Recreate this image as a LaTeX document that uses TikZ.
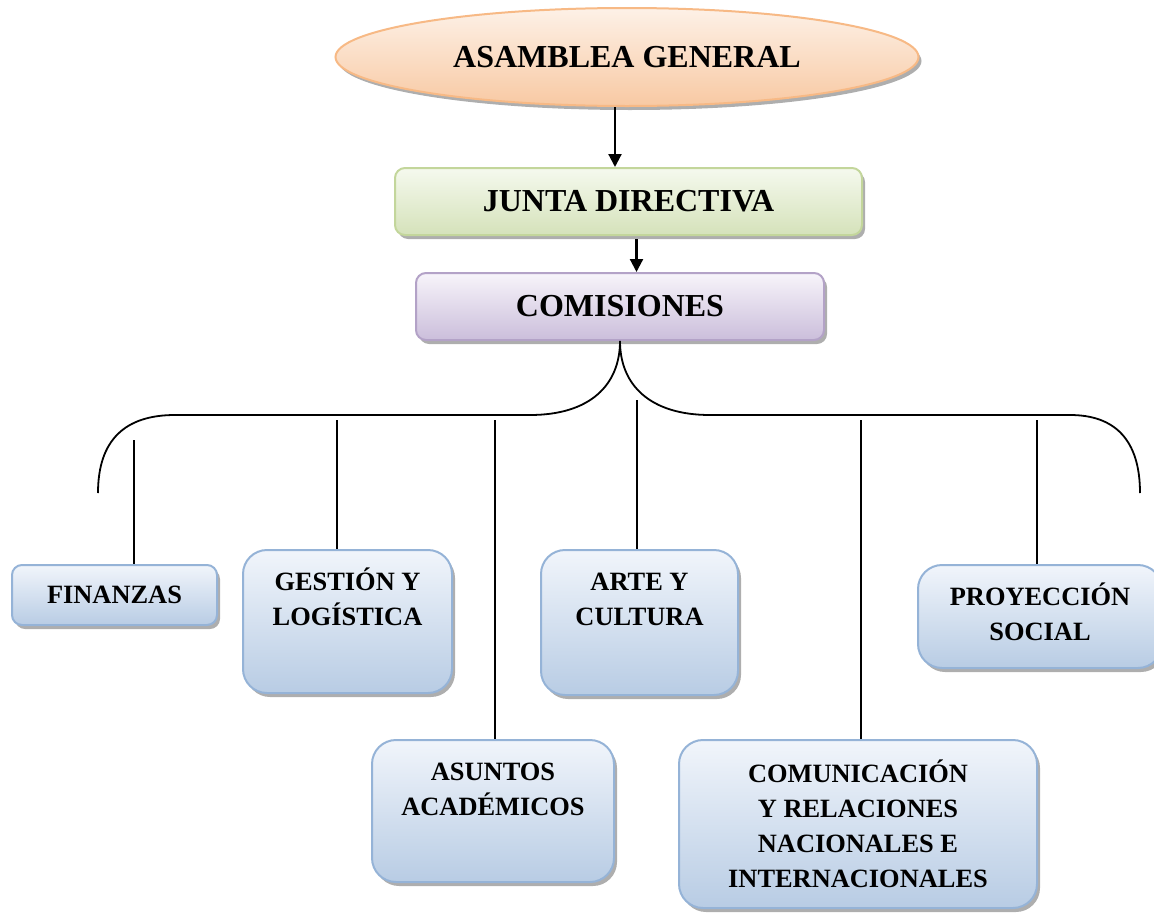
\documentclass[tikz,border=0pt]{standalone}
\usepackage{fontspec}
\setmainfont{Liberation Serif}
\usetikzlibrary{shapes,arrows.meta,shadows,positioning}

\definecolor{melocoton}{HTML}{FDF1E7}
\definecolor{melocotonb}{HTML}{F8C9A3}
\definecolor{melocotonl}{HTML}{F7B985}
\definecolor{verdea}{HTML}{F5F9EE}
\definecolor{verdeb}{HTML}{D5E2BA}
\definecolor{verdel}{HTML}{C3D69B}
\definecolor{moradoa}{HTML}{F7F4FA}
\definecolor{moradob}{HTML}{CBBEDB}
\definecolor{moradol}{HTML}{B3A2C7}
\definecolor{azula}{HTML}{F1F5FB}
\definecolor{azulb}{HTML}{B8CCE4}
\definecolor{azull}{HTML}{95B3D7}

\begin{document}
\begin{tikzpicture}[x=1pt,y=-1pt,
    line width=1.8pt,
    sombra/.style={drop shadow={shadow xshift=3pt,shadow yshift=-4pt,fill=black!45,opacity=.7}},
    grande/.style={font=\fontsize{32}{36}\selectfont\bfseries},
    caja/.style={draw=azull, line width=2pt, rounded corners=24pt,
        top color=azula, bottom color=azulb, sombra},
    texto/.style={font=\fontsize{26.4}{35}\selectfont\bfseries, align=center,
        inner sep=0pt, anchor=north},
    flecha/.style={-{Triangle[length=13pt,width=13pt]}, line width=2.2pt}]
\useasboundingbox (0,0) rectangle (1154,913);

% niveles superiores
\node[ellipse, draw=melocotonl, line width=2pt, top color=melocoton, bottom color=melocotonb,
      minimum width=583pt, minimum height=98pt, sombra, grande] (asam) at (627,57) {ASAMBLEA GENERAL};
\node[draw=verdel, line width=2pt, rounded corners=10pt, top color=verdea, bottom color=verdeb,
      minimum width=467pt, minimum height=67pt, sombra, grande] (junta) at (628.5,201.5) {JUNTA DIRECTIVA};
\node[draw=moradol, line width=2pt, rounded corners=10pt, top color=moradoa, bottom color=moradob,
      minimum width=408pt, minimum height=67pt, sombra, grande] (comi) at (620,306.5) {COMISIONES};

\draw[flecha] ([xshift=-12pt]asam.south) -- ([xshift=-12pt]asam.south |- junta.north);
\draw[flecha] ([xshift=8pt,yshift=-3pt]junta.south) -- ([xshift=8pt]junta.south |- comi.north);

% comisiones
\node[caja, rounded corners=10pt, minimum width=205pt, minimum height=60pt,
      font=\fontsize{26.4}{35}\selectfont\bfseries] (fin) at (114.5,595) {FINANZAS};
\node[caja, minimum width=209pt, minimum height=143pt] (gest) at (347.5,621.5) {};
\node[caja, minimum width=197pt, minimum height=145pt] (arte) at (639.5,622.5) {};
\node[caja, minimum width=244pt, minimum height=103pt] (proy) at (1040,616.5) {};
\node[caja, minimum width=242pt, minimum height=142pt] (asun) at (493,811) {};
\node[caja, minimum width=358pt, minimum height=168pt] (comu) at (858,824) {};

\node[texto, below=16pt of gest.north] (gest-t) {\strut GESTIÓN Y\\LOGÍSTICA};
\node[texto, below=16pt of arte.north] (arte-t) {\strut ARTE Y\\CULTURA};
\node[texto, below=16pt of proy.north] (proy-t) {\strut PROYECCIÓN\\SOCIAL};
\node[texto, below=16pt of asun.north] (asun-t) {\strut ASUNTOS\\ACADÉMICOS};
\node[texto, below=18pt of comu.north] (comu-t) {\strut COMUNICACIÓN\\Y RELACIONES\\NACIONALES E\\INTERNACIONALES};

% llave
\coordinate (izq) at (98,493);
\coordinate (der) at (1140,493);
\draw (izq) .. controls (98,440) and (125,415) .. (175,415) -- (530,415)
      .. controls (590,415) and (620,385) .. (comi.south)
      .. controls (620,385) and (650,415) .. (710,415) -- (1070,415)
      .. controls (1115,415) and (1140,440) .. (der);

% lineas
\coordinate (l1) at (134,440);
\coordinate (l2) at (337,420);
\coordinate (l3) at (495,420);
\coordinate (l4) at (637,400);
\coordinate (l5) at (861,420);
\coordinate (l6) at (1037,420);
\draw (l1) -- (l1 |- fin.north);
\draw (l2) -- (l2 |- gest.north);
\draw (l3) -- (l3 |- asun.north);
\draw (l4) -- (l4 |- arte.north);
\draw (l5) -- (l5 |- comu.north);
\draw (l6) -- (l6 |- proy.north);
\end{tikzpicture}
\end{document}
